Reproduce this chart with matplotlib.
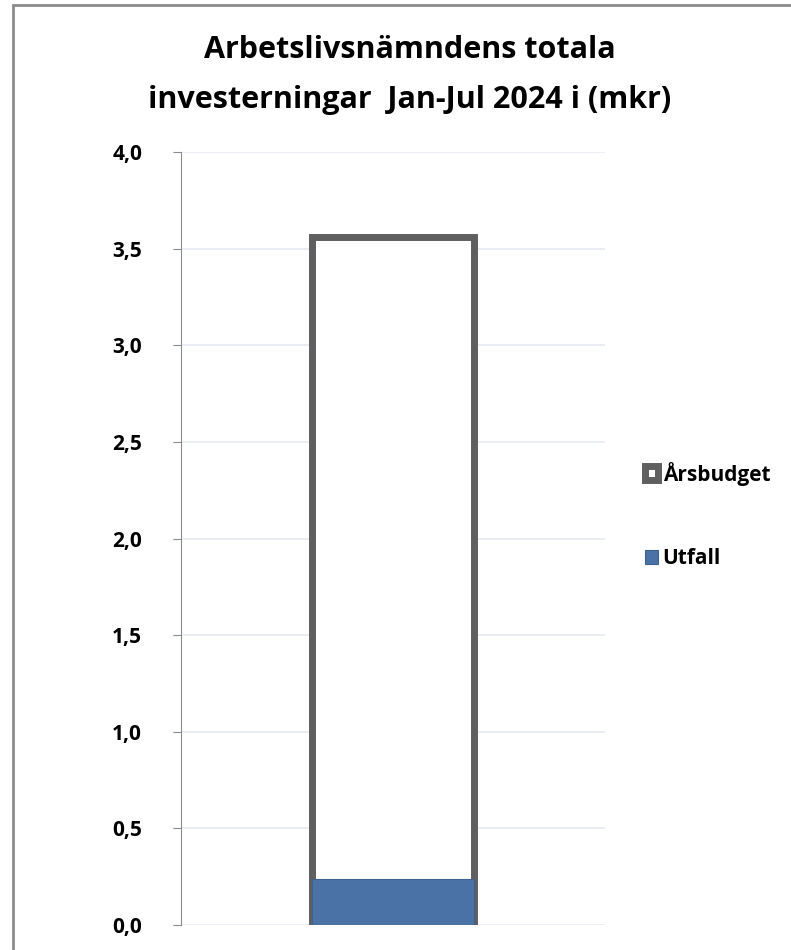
import matplotlib.pyplot as plt
from matplotlib.patches import Rectangle

plt.rcParams['font.family'] = ['Open Sans', 'DejaVu Sans']

# data
kategori = ['']
arsbudget = [3.56]
utfall = [0.24]
yticks = [0.0, 0.5, 1.0, 1.5, 2.0, 2.5, 3.0, 3.5, 4.0]

fig = plt.figure(figsize=(7.91, 9.5), dpi=100)
fig.patches.append(Rectangle((13 / 791, -0.01), 1.0, 1 - 5 / 950 + 0.01,
                             transform=fig.transFigure, fill=False,
                             edgecolor='#8c8c8c', linewidth=2))

ax = fig.add_axes([181 / 791, 25 / 950, 424 / 791, 773 / 950])

x = range(len(kategori))
ax.bar(x, arsbudget, width=0.38, color='white', edgecolor='#5f5f5f',
       linewidth=5, label='Årsbudget', zorder=2)
ax.bar(x, utfall, width=0.38, color='#4a72a6', edgecolor='#3d6190',
       linewidth=0.8, label='Utfall', zorder=3)

ax.set_xlim(-0.5, 0.5)
ax.set_ylim(0, 4.0)
ax.set_yticks(yticks)
ax.set_yticklabels([f'{v:.1f}'.replace('.', ',') for v in yticks],
                   fontsize=15, fontweight='bold')
ax.set_xticks([])
ax.yaxis.grid(True, color='#e6eaf2', linewidth=1.2, zorder=0)
ax.set_axisbelow(True)
for s in ['top', 'right', 'bottom']:
    ax.spines[s].set_visible(False)
ax.spines['left'].set_color('#8c8c8c')
ax.tick_params(axis='y', length=6, color='#8c8c8c', pad=22)

fig.text(410 / 791, 1 - 75 / 950,
         'Arbetslivsnämndens totala\ninvesterningar  Jan-Jul 2024 i (mkr)',
         ha='center', va='center', fontsize=22, fontweight='bold',
         linespacing=1.85)

ax.legend(loc='center left', bbox_to_anchor=(1.05, 0.53), frameon=False,
          prop={'weight': 'bold', 'size': 15}, handlelength=0.65,
          handleheight=0.65, handletextpad=0.2, labelspacing=3.0)

fig.savefig('out.png', dpi=100)
